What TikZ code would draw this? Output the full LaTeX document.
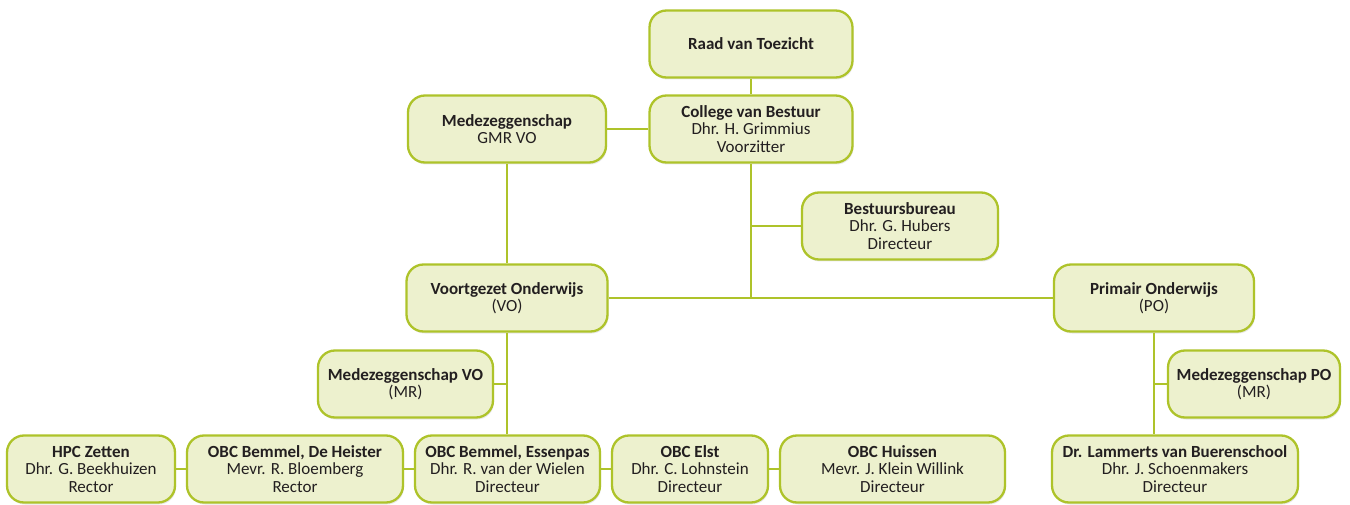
\documentclass[tikz,border=0pt]{standalone}
\usepackage{fontspec}
\setmainfont{Carlito}
\usetikzlibrary{shadows}
\definecolor{boxline}{RGB}{174,195,42}
\definecolor{boxfill}{RGB}{237,241,206}
\definecolor{txt}{RGB}{35,31,32}
\tikzset{
  orgbox/.style={draw=boxline, fill=boxfill, line width=2.3pt, rounded corners=17pt,
    minimum height=67pt, inner sep=0pt, align=center, text=txt,
    font=\fontsize{17}{17.5}\selectfont,
    drop shadow={opacity=0.15, shadow xshift=1pt, shadow yshift=-2pt, fill=black!60}},
  link/.style={draw=boxline, line width=2.4pt}
}
\begin{document}
\begin{tikzpicture}[x=1pt,y=-1pt]
\useasboundingbox (0,0) rectangle (1350,505);
\node[orgbox, minimum width=203pt] (rvt) at (751,44) {\textbf{Raad van Toezicht}};
\node[orgbox, minimum width=203pt] (cvb) at (751,129) {\textbf{College van Bestuur}\\Dhr. H. Grimmius\\Voorzitter};
\node[orgbox, minimum width=198pt] (gmr) at (507,129) {\textbf{Medezeggenschap}\\GMR VO};
\node[orgbox, minimum width=196pt] (bb) at (900,226) {\textbf{Bestuursbureau}\\Dhr. G. Hubers\\Directeur};
\node[orgbox, minimum width=201pt] (vo) at (507,298) {\textbf{Voortgezet Onderwijs}\\(VO)};
\node[orgbox, minimum width=200pt] (po) at (1154,298) {\textbf{Primair Onderwijs}\\(PO)};
\node[orgbox, minimum width=175pt] (mrvo) at (405.5,384) {\textbf{Medezeggenschap VO}\\(MR)};
\node[orgbox, minimum width=172pt] (mrpo) at (1254,384) {\textbf{Medezeggenschap PO}\\(MR)};
\node[orgbox, minimum width=168pt] (hpc) at (91,469) {\textbf{HPC Zetten}\\Dhr. G. Beekhuizen\\Rector};
\node[orgbox, minimum width=216pt] (heis) at (295,469) {\textbf{OBC Bemmel, De Heister}\\Mevr. R. Bloemberg\\Rector};
\node[orgbox, minimum width=185pt] (ess) at (507.5,469) {\textbf{OBC Bemmel, Essenpas}\\Dhr. R. van der Wielen\\Directeur};
\node[orgbox, minimum width=156pt] (elst) at (690,469) {\textbf{OBC Elst}\\Dhr. C. Lohnstein\\Directeur};
\node[orgbox, minimum width=225pt] (huis) at (892.5,469) {\textbf{OBC Huissen}\\Mevr. J. Klein Willink\\Directeur};
\node[orgbox, minimum width=246pt] (lam) at (1175,469) {\textbf{Dr. Lammerts van Buerenschool}\\Dhr. J. Schoenmakers\\Directeur};
\coordinate (j1) at (cvb.south |- vo);
\coordinate (j2) at (bb.west -| cvb.south);
\coordinate (j3) at (mrvo.east -| vo.south);
\coordinate (j4) at (mrpo.west -| po.south);
\draw[link] (rvt) -- (cvb);
\draw[link] (gmr) -- (cvb);
\draw[link] (gmr.south) -- (gmr.south |- vo.north);
\draw[link] (cvb.south) -- (j1);
\draw[link] (bb.west) -- (j2);
\draw[link] (vo) -- (po);
\draw[link] (vo.south) -- (vo.south |- ess.north);
\draw[link] (mrvo.east) -- (j3);
\draw[link] (po.south) -- (po.south |- lam.north);
\draw[link] (mrpo.west) -- (j4);
\draw[link] (hpc) -- (heis);
\draw[link] (heis) -- (ess);
\draw[link] (ess) -- (elst);
\draw[link] (elst) -- (huis);
\end{tikzpicture}
\end{document}
